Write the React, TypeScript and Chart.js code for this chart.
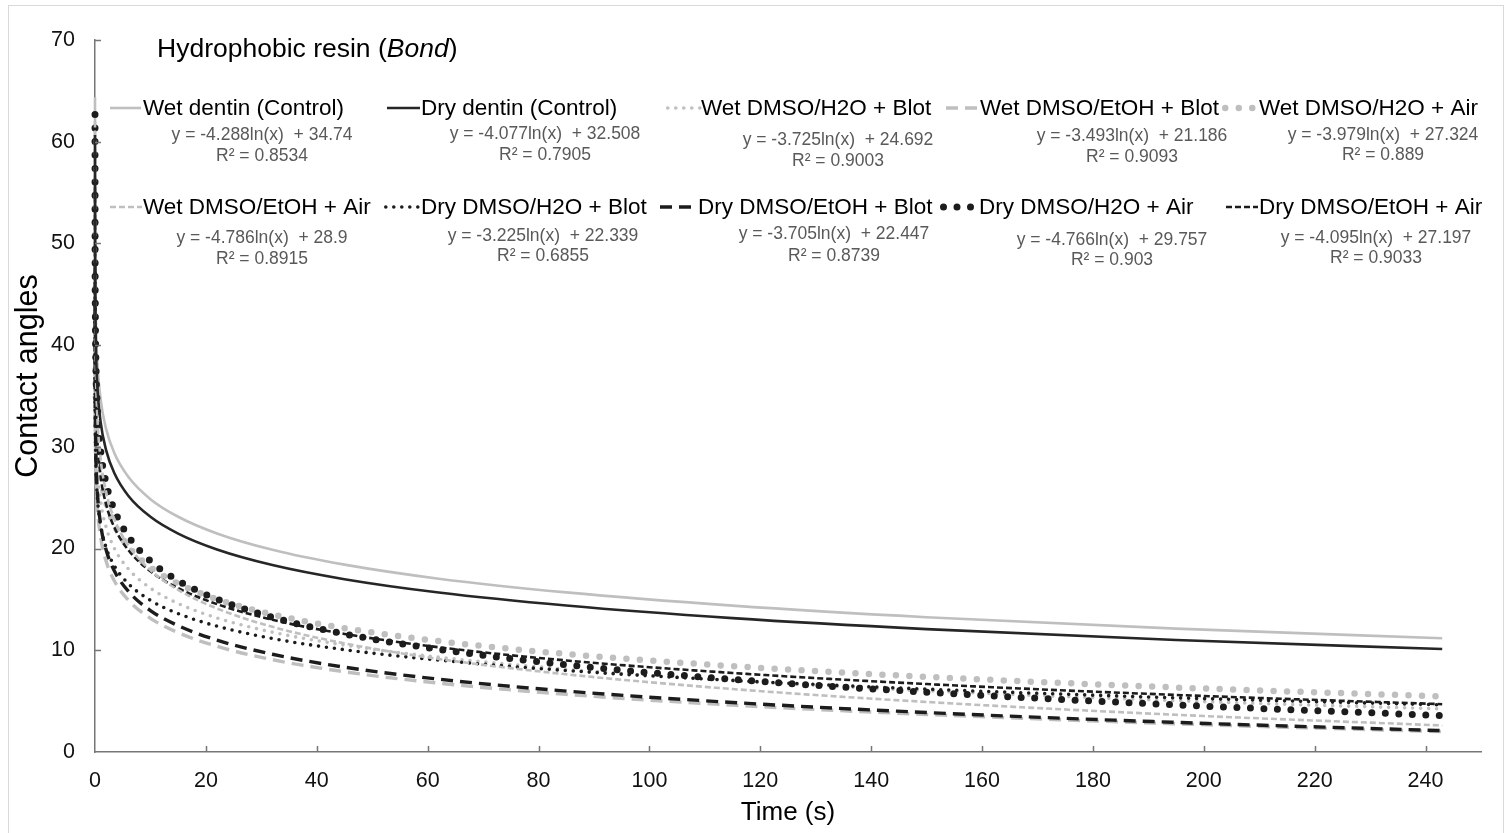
import React, { useEffect, useRef } from "react";
import { Chart, registerables } from "chart.js";

Chart.register(...registerables);

const FONT = "'Liberation Sans', Arial, Helvetica, sans-serif";

// ---------- data ----------
const timeSeconds = [0.001, 0.01, 0.05, 0.15, 0.4, 1, 2, 3.5, 6, 10, 15, 22, 32, 45, 62, 85, 115, 150, 195, 243];

const wetDentinControl = [64.36, 54.49, 47.59, 42.87, 38.67, 34.74, 31.77, 29.37, 27.06, 24.86, 23.13, 21.49, 19.88, 18.42, 17.04, 15.69, 14.39, 13.25, 12.13, 11.19];
const dryDentinControl = [60.67, 51.28, 44.72, 40.24, 36.24, 32.51, 29.68, 27.4, 25.2, 23.12, 21.47, 19.91, 18.38, 16.99, 15.68, 14.4, 13.16, 12.08, 11.01, 10.12];
const wetH2OBlot = [50.42, 41.84, 35.85, 31.76, 28.1, 24.69, 22.11, 20.02, 18.01, 16.11, 14.6, 13.18, 11.78, 10.51, 9.32, 8.14, 7.01, 6.02, 5.05, 4.23];
const wetEtOHBlot = [45.32, 37.28, 31.65, 27.81, 24.39, 21.19, 18.77, 16.81, 14.93, 13.14, 11.73, 10.39, 9.08, 7.89, 6.77, 5.67, 4.61, 3.69, 2.77, 2.0];
const wetH2OAir = [54.81, 45.65, 39.24, 34.87, 30.97, 27.32, 24.57, 22.34, 20.19, 18.16, 16.55, 15.02, 13.53, 12.17, 10.9, 9.64, 8.44, 7.39, 6.34, 5.47];
const wetEtOHAir = [61.96, 50.94, 43.24, 37.98, 33.28, 28.9, 25.58, 22.9, 20.32, 17.88, 15.94, 14.11, 12.31, 10.68, 9.15, 7.64, 6.19, 4.92, 3.66, 2.61];
const dryH2OBlot = [44.62, 37.19, 32.0, 28.46, 25.29, 22.34, 20.11, 18.3, 16.56, 14.91, 13.61, 12.37, 11.16, 10.06, 9.03, 8.01, 7.04, 6.18, 5.33, 4.63];
const dryEtOHBlot = [48.04, 39.51, 33.55, 29.48, 25.84, 22.45, 19.88, 17.8, 15.81, 13.91, 12.42, 11.0, 9.61, 8.34, 7.16, 5.99, 4.87, 3.88, 2.91, 2.1];
const dryH2OAir = [62.68, 51.7, 44.04, 38.8, 34.12, 29.76, 26.45, 23.79, 21.22, 18.78, 16.85, 15.03, 13.24, 11.61, 10.09, 8.58, 7.14, 5.88, 4.63, 3.58];
const dryEtOHAir = [55.49, 46.05, 39.47, 34.97, 30.95, 27.2, 24.36, 22.07, 19.86, 17.77, 16.11, 14.54, 13.0, 11.61, 10.3, 9.0, 7.77, 6.68, 5.61, 4.7];

const seriesNames = [
  "Wet dentin (Control)",
  "Dry dentin (Control)",
  "Wet DMSO/H2O + Blot",
  "Wet DMSO/EtOH + Blot",
  "Wet DMSO/H2O + Air",
  "Wet DMSO/EtOH + Air",
  "Dry DMSO/H2O + Blot",
  "Dry DMSO/EtOH + Blot",
  "Dry DMSO/H2O + Air",
  "Dry DMSO/EtOH + Air",
];

const equations = [
  "y = -4.288ln(x)  + 34.74",
  "y = -4.077ln(x)  + 32.508",
  "y = -3.725ln(x)  + 24.692",
  "y = -3.493ln(x)  + 21.186",
  "y = -3.979ln(x)  + 27.324",
  "y = -4.786ln(x)  + 28.9",
  "y = -3.225ln(x)  + 22.339",
  "y = -3.705ln(x)  + 22.447",
  "y = -4.766ln(x)  + 29.757",
  "y = -4.095ln(x)  + 27.197",
];

const r2Labels = [
  "R² = 0.8534",
  "R² = 0.7905",
  "R² = 0.9003",
  "R² = 0.9093",
  "R² = 0.889",
  "R² = 0.8915",
  "R² = 0.6855",
  "R² = 0.8739",
  "R² = 0.903",
  "R² = 0.9033",
];

const seriesValues = [
  wetDentinControl, dryDentinControl, wetH2OBlot, wetEtOHBlot, wetH2OAir,
  wetEtOHAir, dryH2OBlot, dryEtOHBlot, dryH2OAir, dryEtOHAir,
];

const xTickValues = [0, 20, 40, 60, 80, 100, 120, 140, 160, 180, 200, 220, 240];
const yTickValues = [0, 10, 20, 30, 40, 50, 60, 70];

const chartTitle = "Hydrophobic resin (";
const chartTitleItalic = "Bond";
const chartTitleEnd = ")";
const xAxisTitle = "Time (s)";
const yAxisTitle = "Contact angles";

// ---------- styles ----------
const GRAY = "#bfbfbf";
const BLACK = "#1c1c1c";
const AXIS = "#767676";

type Style = { color: string; width: number; dash: number[]; cap: CanvasLineCap };
const seriesStyles: Style[] = [
  { color: GRAY, width: 2.6, dash: [], cap: "butt" },
  { color: "#262626", width: 2.6, dash: [], cap: "butt" },
  { color: GRAY, width: 3.6, dash: [0, 8], cap: "round" },
  { color: GRAY, width: 3.4, dash: [12, 7], cap: "butt" },
  { color: GRAY, width: 6.5, dash: [0, 13.5], cap: "round" },
  { color: GRAY, width: 2.6, dash: [6, 3], cap: "butt" },
  { color: BLACK, width: 3.6, dash: [0, 8], cap: "round" },
  { color: BLACK, width: 3.4, dash: [12, 7], cap: "butt" },
  { color: BLACK, width: 7, dash: [0, 13.5], cap: "round" },
  { color: BLACK, width: 2.6, dash: [6, 3], cap: "butt" },
];

// legend layout (page pixels)
const legendLayout = [
  { sx: 110, ex: 141, tx: 143, ty: 115, ecx: 262, ey: 140, ry: 161 },
  { sx: 387, ex: 420, tx: 421, ty: 115, ecx: 545, ey: 139, ry: 160 },
  { sx: 666, ex: 700, tx: 701, ty: 115, ecx: 838, ey: 145, ry: 166 },
  { sx: 946, ex: 978, tx: 980, ty: 115, ecx: 1132, ey: 141, ry: 162 },
  { sx: 1222, ex: 1257, tx: 1259, ty: 115, ecx: 1383, ey: 140, ry: 160 },
  { sx: 110, ex: 142, tx: 143, ty: 214, ecx: 262, ey: 243, ry: 264 },
  { sx: 384, ex: 419, tx: 421, ty: 214, ecx: 543, ey: 241, ry: 261 },
  { sx: 660, ex: 696, tx: 698, ty: 214, ecx: 834, ey: 239, ry: 261 },
  { sx: 940, ex: 977, tx: 979, ty: 214, ecx: 1112, ey: 245, ry: 265 },
  { sx: 1226, ex: 1258, tx: 1259, ty: 214, ecx: 1376, ey: 243, ry: 263 },
];

const figurePlugin = {
  id: "figureDecor",
  beforeDraw(chart: any) {
    const ctx = chart.ctx as CanvasRenderingContext2D;
    ctx.save();
    ctx.fillStyle = "#ffffff";
    ctx.fillRect(0, 0, chart.width, chart.height);
    ctx.strokeStyle = "#d9d9d9";
    ctx.lineWidth = 1;
    ctx.strokeRect(8.5, 5.5, 1495, 900);
    ctx.restore();
  },
  afterDraw(chart: any) {
    const ctx = chart.ctx as CanvasRenderingContext2D;
    const xs = chart.scales.x;
    const ys = chart.scales.y;
    const area = chart.chartArea;
    ctx.save();
    // inward tick marks
    ctx.strokeStyle = AXIS;
    ctx.lineWidth = 1.5;
    ctx.setLineDash([]);
    ctx.beginPath();
    xTickValues.forEach((v) => {
      if (v === 0) return;
      const px = Math.round(xs.getPixelForValue(v)) + 0.5;
      ctx.moveTo(px, area.bottom);
      ctx.lineTo(px, area.bottom - 6);
    });
    yTickValues.forEach((v) => {
      if (v === 0) return;
      const py = Math.round(ys.getPixelForValue(v)) + 0.5;
      ctx.moveTo(area.left, py);
      ctx.lineTo(area.left + 6, py);
    });
    ctx.stroke();

    // y axis title
    ctx.save();
    ctx.translate(29, 376);
    ctx.rotate(-Math.PI / 2);
    ctx.fillStyle = "#000000";
    ctx.font = `30.5px ${FONT}`;
    ctx.textAlign = "center";
    ctx.textBaseline = "middle";
    ctx.fillText(yAxisTitle, 0, 0);
    ctx.restore();

    // title
    ctx.fillStyle = "#000000";
    ctx.textBaseline = "alphabetic";
    ctx.textAlign = "left";
    ctx.font = `26.5px ${FONT}`;
    let tx = 157;
    ctx.fillText(chartTitle, tx, 57);
    tx += ctx.measureText(chartTitle).width;
    ctx.font = `italic 26.5px ${FONT}`;
    ctx.fillText(chartTitleItalic, tx, 57);
    tx += ctx.measureText(chartTitleItalic).width;
    ctx.font = `26.5px ${FONT}`;
    ctx.fillText(chartTitleEnd, tx, 57);

    // legend
    legendLayout.forEach((L, i) => {
      const st = seriesStyles[i];
      ctx.save();
      ctx.strokeStyle = st.color;
      ctx.lineWidth = st.width;
      ctx.lineCap = st.cap;
      ctx.setLineDash(st.dash);
      const ly = L.ty - 7;
      ctx.beginPath();
      const start = st.cap === "round" ? L.sx + st.width / 2 : L.sx;
      ctx.moveTo(start, ly);
      ctx.lineTo(L.ex, ly);
      ctx.stroke();
      ctx.restore();

      ctx.fillStyle = "#000000";
      ctx.textAlign = "left";
      ctx.font = `22.5px ${FONT}`;
      ctx.fillText(seriesNames[i], L.tx, L.ty);

      ctx.fillStyle = "#595959";
      ctx.textAlign = "center";
      ctx.font = `17.5px ${FONT}`;
      ctx.fillText(equations[i], L.ecx, L.ey);
      ctx.fillText(r2Labels[i], L.ecx, L.ry);
    });
    ctx.restore();
  },
};

export default function App() {
  const ref = useRef<HTMLCanvasElement | null>(null);

  useEffect(() => {
    const canvas = ref.current;
    if (!canvas) return;
    const datasets = seriesValues.map((vals, i) => {
      const st = seriesStyles[i];
      return {
        label: seriesNames[i],
        data: vals.map((y, k) => ({ x: timeSeconds[k], y })),
        borderColor: st.color,
        backgroundColor: st.color,
        borderWidth: st.width,
        borderDash: st.dash,
        borderCapStyle: st.cap,
        borderJoinStyle: "round",
        pointRadius: 0,
        fill: false,
        cubicInterpolationMode: "monotone",
        clip: false,
        order: i >= 5 || i === 1 ? 1 : 2,
      };
    });

    const chart = new Chart(canvas, {
      type: "line",
      data: { datasets } as any,
      options: {
        animation: false,
        responsive: false,
        maintainAspectRatio: false,
        devicePixelRatio: 1,
        layout: { padding: { top: 40, right: 24, left: 0, bottom: 0 } },
        plugins: {
          legend: { display: false },
          tooltip: { enabled: false },
          title: { display: false },
        },
        scales: {
          x: {
            type: "linear",
            min: 0,
            max: 250,
            afterBuildTicks: (s: any) => {
              s.ticks = xTickValues.map((v) => ({ value: v }));
            },
            afterFit: (s: any) => {
              s.height = 81;
            },
            grid: { display: false, drawTicks: false },
            border: { display: true, color: AXIS, width: 1.5 },
            ticks: {
              padding: 16,
              color: "#111111",
              font: { family: FONT, size: 21.5 },
              maxRotation: 0,
              autoSkip: false,
            },
            title: {
              display: true,
              text: xAxisTitle,
              color: "#000000",
              font: { family: FONT, size: 26 },
              padding: { top: 0, bottom: 5 },
            },
          },
          y: {
            type: "linear",
            min: 0,
            max: 70,
            afterBuildTicks: (s: any) => {
              s.ticks = yTickValues.map((v) => ({ value: v }));
            },
            afterFit: (s: any) => {
              s.width = 95;
            },
            grid: { display: false, drawTicks: false },
            border: { display: true, color: AXIS, width: 1.5 },
            ticks: {
              padding: 20,
              color: "#111111",
              font: { family: FONT, size: 21.5 },
              autoSkip: false,
            },
            title: { display: false },
          },
        },
      } as any,
      plugins: [figurePlugin],
    });
    return () => chart.destroy();
  }, []);

  return (
    <div style={{ position: "absolute", left: 0, top: 0, width: 1505, height: 833, overflow: "hidden" }}>
      <canvas ref={ref} width={1505} height={833} style={{ display: "block", width: 1505, height: 833 }} />
    </div>
  );
}
